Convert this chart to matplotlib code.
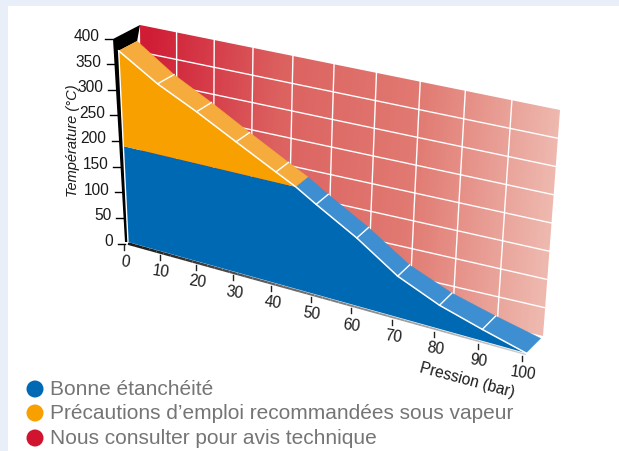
import numpy as np
import matplotlib
matplotlib.use('Agg')
import matplotlib.pyplot as plt
from matplotlib.colors import LinearSegmentedColormap
from matplotlib.patches import Polygon, Circle, Rectangle

plt.rcParams['font.family'] = ['Liberation Sans', 'DejaVu Sans']

# chart values
pressure = [0, 10, 20, 30, 40, 45, 50, 60, 70, 80, 90, 100]
limit_temp = [373, 325, 288, 248, 209, 190, 167, 124, 74, 42, 20, 0]
split_temp = [187, 190]  # blue/orange boundary at pressure 0 and 45
p_ticks = [0, 10, 20, 30, 40, 50, 60, 70, 80, 90, 100]
t_ticks = [0, 50, 100, 150, 200, 250, 300, 350, 400]
legend_labels = ['Bonne étanchéité',
                 'Précautions d’emploi recommandées sous vapeur',
                 'Nous consulter pour avis technique']
legend_colors = ['#0069b4', '#f7a000', '#d0142f']

BLUE, ORANGE = '#0069b4', '#f7a000'
BLUE_L, ORANGE_L = '#3d8fd1', '#f5ac3c'
TXT = '#1a1a1a'
DEPTH = 0.86  # how far the top strip reaches towards the back wall

# plane corners in pixels: p0/t0, p100/t0, p100/t400, p0/t400, and foreshortening
FRONT = [(128, 243), (526, 354), (545, 128), (118, 38)], 0.883
BACK = [(142, 242), (543, 337), (560, 111), (140, 26)], 0.859


def plane(spec, p, t):
    c, r = spec
    s = p / 100.0
    f = s * r / (s * r + 1 - s)
    v = t / 400.0
    c = np.array(c, float)
    bottom = c[0] + (c[1] - c[0]) * f
    top = c[3] + (c[2] - c[3]) * f
    return tuple(bottom + (top - bottom) * v)


def front(p, t):
    return plane(FRONT, p, t)


def back(p, t):
    return plane(BACK, p, t)


def strip_back(p, t):
    a, b = np.array(front(p, t)), np.array(back(p, t))
    return tuple(a + (b - a) * DEPTH)


def wall_color_image():
    cmap = LinearSegmentedColormap.from_list(
        'wall', ['#d01c35', '#dc6260', '#e17a72', '#eeb8ae'])
    yy, xx = np.mgrid[0:452, 0:619]
    return cmap(np.clip((xx - 140 + 0.1 * (yy - 100)) / 420.0, 0, 1))


fig = plt.figure(figsize=(6.19, 4.52), dpi=100)
ax = fig.add_axes([0, 0, 1, 1])

ax.add_patch(Rectangle((0, 0), 619, 7, color='#e8eff9', lw=0))
ax.add_patch(Rectangle((0, 0), 8, 452, color='#e8eff9', lw=0))

# back wall
wall = Polygon([back(0, 0), back(100, 0), back(100, 400), back(0, 400)],
               closed=True, fc='none', ec='none')
ax.add_patch(wall)
im = ax.imshow(wall_color_image(), extent=(0, 619, 452, 0), aspect='auto', zorder=1)
im.set_clip_path(wall)
ax.set_xlim(0, 619)
ax.set_ylim(452, 0)
ax.axis('off')

for p in p_ticks[1:-1]:
    ax.plot(*zip(back(p, 0), back(p, 400)), color='white', lw=1.0, zorder=2)
for t in t_ticks[1:-1]:
    ax.plot(*zip(back(0, t), back(100, t)), color='white', lw=1.0, zorder=2)

# black side panel
f400, f0 = front(0, 400), front(0, 0)
ax.add_patch(Polygon([(f400[0] - 5, f400[1] + 2), back(0, 400),
                      strip_back(0, limit_temp[0]), front(0, limit_temp[0]), f0,
                      (f0[0] - 3, f0[1])],
                     closed=True, fc='black', ec='none', zorder=4))

# bottom edge, dark to light
for p0, p1 in zip(np.arange(0, 100, 2), np.arange(2, 102, 2)):
    a, b = front(p0, 0), front(p1, 0)
    g = 0.1 + 0.72 * p0 / 100
    ax.plot([a[0], b[0]], [a[1] + 1.5, b[1] + 1.5], color=(g, g, g), lw=2.0 - p0 / 100,
            solid_capstyle='butt', zorder=4)

# front faces
i = pressure.index(45)
blue = [front(0, 0), front(100, 0)]
blue += [front(p, t) for p, t in zip(pressure[:i - 1:-1], limit_temp[:i - 1:-1])]
blue += [front(0, split_temp[0])]
orange = [front(p, t) for p, t in zip(pressure[:i + 1], limit_temp[:i + 1])]
orange += [front(0, split_temp[0])]
ax.add_patch(Polygon(blue, closed=True, fc=BLUE, ec='none', zorder=5))
ax.add_patch(Polygon(orange, closed=True, fc=ORANGE, ec='none', zorder=5))

# top strip along the limit curve
for k in range(len(pressure) - 1):
    p0, p1 = pressure[k], pressure[k + 1]
    t0, t1 = limit_temp[k], limit_temp[k + 1]
    c = ORANGE_L if p1 <= 45 else BLUE_L
    ax.add_patch(Polygon([front(p0, t0), front(p1, t1), strip_back(p1, t1), strip_back(p0, t0)],
                         closed=True, fc=c, ec=c, lw=0.3, zorder=6))
    if p1 != 45 and p1 != 100:
        ax.plot(*zip(front(p1, t1), strip_back(p1, t1)), color='white', lw=1.0, zorder=7)

lim = [front(p, t) for p, t in zip(pressure, limit_temp)]
ax.plot(*zip(*lim), color='white', lw=1.1, zorder=7)
ax.plot(*zip(front(0, 0), front(0, limit_temp[0])), color='white', lw=1.0, zorder=7)

# axes
for t in t_ticks:
    x, y = front(0, t)
    d = 3 * t / 400.0
    ax.plot([x - 10 - d, x - 3 - d], [y + 1.5, y + 1.5], color='black', lw=1.0, zorder=3)
    ax.text(x - 15 - d, y - 1.5, str(t), ha='right', va='center', fontsize=11.2, color=TXT)
for p in p_ticks:
    x, y = front(p, 0)
    ax.plot([x - 4, x - 4], [y + 3, y + 8], color='#222222', lw=1.0, zorder=3)
    ax.text(x - 3, y + 19, str(p), ha='center', va='center', fontsize=11.2, color=TXT,
            rotation=-8)
ax.text(73, 141, 'Température (°C)', rotation=90, ha='center', va='center',
        fontsize=10.5, style='italic', color=TXT)
ax.text(467, 380, 'Pression (bar)', rotation=-15, ha='center', va='center',
        fontsize=11.2, color=TXT)

# legend
for y, c, s in zip([390, 414, 439], legend_colors, legend_labels):
    ax.add_patch(Circle((35, y), 8.5, fc=c, ec='none'))
    ax.text(50, y, s, ha='left', va='center', fontsize=15.05, color='#757575')

fig.savefig('out.png', dpi=100)
